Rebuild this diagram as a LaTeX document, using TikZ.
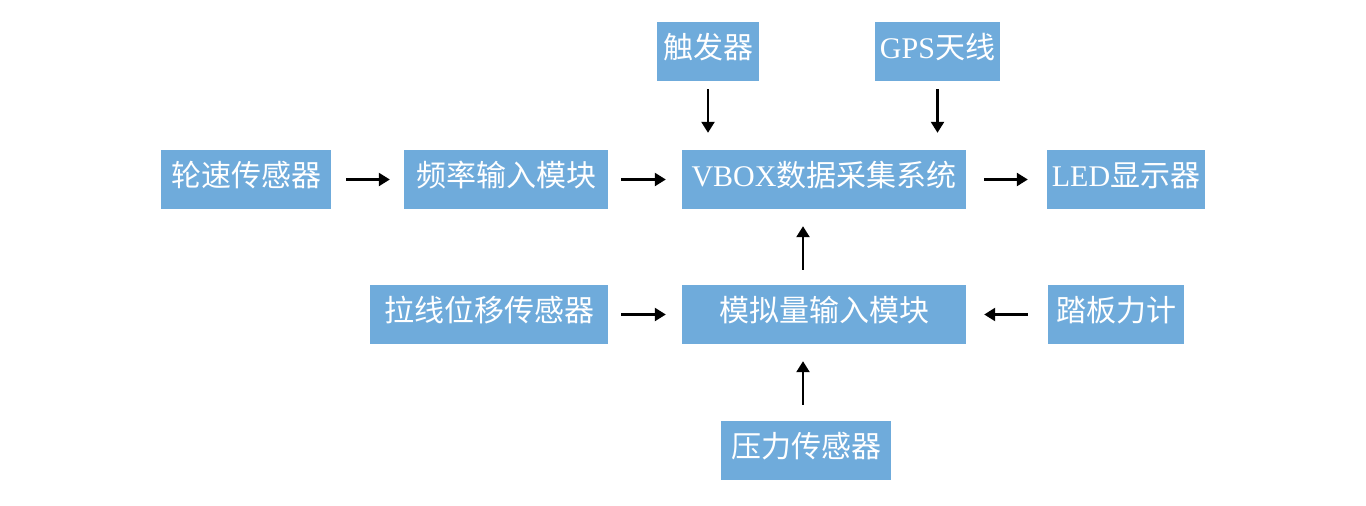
\documentclass[tikz,border=0pt]{standalone}
\usepackage{fontspec}
\setmainfont{Liberation Serif}
\newfontfamily\cjk{Noto Sans CJK SC}
\usetikzlibrary{arrows.meta}
\definecolor{boxblue}{RGB}{111,171,219}
\tikzset{
  blk/.style={fill=boxblue, draw=none, text=white, inner sep=0pt, minimum height=59pt,
    font=\cjk\fontsize{30}{36}\selectfont, text height=22pt, text depth=8.2pt},
  conn/.style={line width=2.4pt, -{Triangle[length=11pt,width=13pt]}}
}
\begin{document}
\begin{tikzpicture}[x=1pt,y=-1pt]
\useasboundingbox (0,0) rectangle (1366,506);
\node[blk, minimum width=170pt] (wheel) at (246,179.5) {轮速传感器};
\node[blk, minimum width=204pt] (freq) at (506,179.5) {频率输入模块};
\node[blk, minimum width=284pt] (vbox) at (824,179.5) {{\rmfamily VBOX}数据采集系统};
\node[blk, minimum width=158pt] (led) at (1126,179.5) {{\rmfamily LED}显示器};
\node[blk, minimum width=102pt] (trig) at (708,51.5) {触发器};
\node[blk, minimum width=125pt] (gps) at (937.5,51.5) {{\rmfamily GPS}天线};
\node[blk, minimum width=238pt] (wire) at (489,314.5) {拉线位移传感器};
\node[blk, minimum width=284pt] (analog) at (824,314.5) {模拟量输入模块};
\node[blk, minimum width=136pt] (pedal) at (1116,314.5) {踏板力计};
\node[blk, minimum width=170pt] (press) at (806,450.5) {压力传感器};

\draw[conn, shorten <=15pt, shorten >=14pt] (wheel.east) -- (freq.west);
\draw[conn, shorten <=13pt, shorten >=16pt] (freq.east) -- (vbox.west);
\draw[conn, shorten <=18pt, shorten >=19pt] (vbox.east) -- (led.west);
\draw[conn, shorten <=8pt, shorten >=17pt] (trig.south) -- (trig.south |- vbox.north);
\draw[conn, shorten <=8pt, shorten >=17pt] (gps.south) -- (gps.south |- vbox.north);
\draw[conn, shorten <=13pt, shorten >=16pt] (wire.east) -- (analog.west);
\draw[conn, shorten <=20pt, shorten >=18pt] (pedal.west) -- (analog.east);
\draw[conn, shorten <=15pt, shorten >=17pt] ([xshift=-21pt]analog.north) -- ([xshift=-21pt]vbox.south);
\draw[conn, shorten <=16pt, shorten >=17pt] ([xshift=-3pt]press.north) -- ([xshift=-21pt]analog.south);
\end{tikzpicture}
\end{document}
